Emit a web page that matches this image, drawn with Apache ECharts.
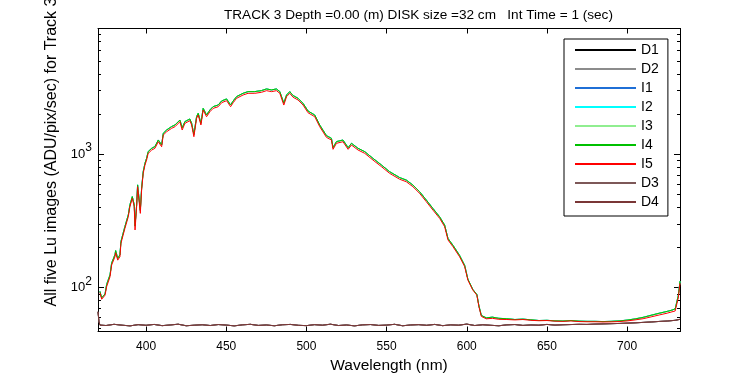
<!DOCTYPE html>
<html>
<head>
<meta charset="utf-8">
<script src="https://cdn.jsdelivr.net/npm/echarts@6/dist/echarts.min.js"></script>
<style>
  html, body { margin: 0; padding: 0; background: #fff; }
  #chart { width: 750px; height: 375px; }
</style>
</head>
<body>
<div id="chart"></div>
<script>
// wavelengths (nm) for the lit images
var wl = [371.2, 372.3, 374.4, 375.4, 377.5, 378.5, 380.6, 381.0, 382.3, 383.7, 384.3, 386.8, 388.9, 389.9,
  391.4, 392.6, 393.1, 394.1, 394.7, 395.7, 396.4, 397.2, 398.2, 399.3, 400.3, 401.3, 403.5, 405.5, 407.6,
  409.7, 410.7, 412.8, 415.9, 418.0, 421.1, 422.5, 424.2, 427.3, 428.4, 429.8, 430.9, 431.5, 432.5, 434.2,
  435.6, 437.7, 439.8, 441.8, 445.0, 447.1, 450.2, 452.7, 454.3, 456.4, 460.5, 463.6, 467.8, 472.0, 475.1,
  478.2, 481.3, 483.4, 485.9, 487.6, 489.6, 491.7, 494.8, 497.9, 501.0, 505.2, 508.3, 512.5, 515.6, 516.6,
  518.7, 522.8, 526.0, 528.1, 532.2, 536.4, 541.5, 546.8, 551.9, 558.2, 562.3, 566.4, 570.6, 574.8, 578.9,
  583.1, 586.2, 588.3, 591.4, 595.5, 598.7, 600.7, 603.8, 606.3, 607.6, 609.1, 612.2, 616, 620, 625, 630,
  635, 640, 645, 650, 655, 660, 665, 670, 675, 680, 685, 690, 695, 700, 705, 710, 715, 720, 725, 728, 730,
  731, 732, 733];
// I5 (red, drawn on top)
var lu5 = [92, 82, 88, 102, 121, 148, 171, 183, 161, 171, 215, 279, 341, 405,
  468, 405, 271, 405, 572, 589, 361, 540, 720, 832, 906, 1017, 1077, 1109, 1243,
  1140, 1395, 1477, 1566, 1610, 1755, 1521, 1707, 1786, 1659, 1355, 1318, 1862, 1971, 1659,
  2147, 1913, 2087, 2210, 2275, 2437, 2524, 2275, 2437, 2628, 2784, 2866, 2866, 2917, 3000,
  2950, 3000, 2866, 2340, 2705, 2866, 2676, 2554, 2340, 2050, 1913, 1610, 1340, 1280, 1090,
  1209, 1243, 1090, 1174, 1077, 1017, 906, 808, 720, 650, 623, 572, 510, 441, 382,
  331, 287, 228, 203, 171, 144, 114, 96, 88, 72, 61, 58.5, 59, 58, 57.8, 57.4,
  57.8, 57, 56.6, 56.8, 56.2, 56, 56.4, 55.8, 55.6, 55.6, 55.4, 55.5, 55.8, 56.4, 57.4, 58.6, 60.5, 62.5, 64.5, 66, 67,
  68, 85, 108];
// I4 (green), a touch above the red
var lu4 = [94, 84, 90, 106, 125, 153, 177, 190, 166, 177, 222, 288, 352, 418,
  482, 418, 290, 418, 590, 607, 380, 556, 742, 858, 934, 1048, 1110, 1143, 1281,
  1175, 1438, 1522, 1614, 1659, 1808, 1580, 1759, 1840, 1710, 1410, 1370, 1918, 2031, 1710,
  2212, 1971, 2150, 2277, 2344, 2511, 2600, 2344, 2511, 2707, 2868, 2952, 2952, 3005, 3090,
  3039, 3090, 2952, 2420, 2787, 2952, 2757, 2631, 2410, 2111, 1970, 1658, 1380, 1318, 1122,
  1245, 1280, 1122, 1209, 1109, 1047, 933, 832, 741, 669, 641, 589, 525, 454, 393,
  340, 295, 234, 208, 175, 147, 116, 97, 89, 73, 62, 59.5, 60.2, 59, 58.6, 57.8,
  58.2, 57.5, 56.8, 57, 56.5, 56.3, 56.8, 56.2, 56, 56, 55.8, 56, 56.4, 57.2, 58.4, 60, 62.2, 64.4, 66.5, 68, 69.5,
  71, 88, 112];
// dark images
var darkWl = [370, 370.6, 371.2, 375, 380, 385, 390, 395, 400, 405, 410, 415, 420, 425, 430, 435, 440, 445,
  450, 455, 460, 465, 470, 475, 480, 485, 490, 495, 500, 505, 510, 515, 520, 525, 530, 535, 540, 545, 550,
  555, 560, 565, 570, 575, 580, 585, 590, 595, 600, 605, 610, 615, 620, 625, 630, 635, 640, 645, 650, 655,
  660, 665, 670, 675, 680, 685, 690, 695, 700, 705, 710, 715, 720, 725, 730, 733];
var darkLu = [66, 56, 52.5, 52.1, 53.2, 52.4, 51.8, 52.9, 52.3, 53.1, 52.0, 52.6, 53.3, 51.9, 52.4, 52.8, 52.1, 53.0,
  52.5, 51.8, 52.7, 53.2, 52.2, 52.6, 51.9, 52.8, 53.1, 52.3, 52.0, 52.9, 52.4, 53.3, 52.1, 52.6, 51.8, 52.7, 53.0,
  52.2, 52.5, 53.2, 51.9, 52.6, 52.9, 52.3, 53.1, 52.0, 52.7, 52.4, 53.4, 52.1, 52.8, 52.3, 51.9, 52.7, 53.0, 52.2,
  52.6, 52.4, 53.1, 52.5, 52.8, 53.0, 53.2, 53.1, 53.4, 53.6, 53.8, 54.0, 54.3, 54.6, 55.0, 55.4, 55.9, 56.3, 57.0, 58.0];

var names = ['D1', 'D2', 'I1', 'I2', 'I3', 'I4', 'I5', 'D3', 'D4'];
var colors = ['#000000', '#8c8c8c', '#1f6fd6', '#00ffff', '#90ee90', '#00c000', '#ff0000', '#7d5858', '#7a3636'];
var xTicks = [400, 450, 500, 550, 600, 650, 700];
var yMajor = [100, 1000];
var yMinor = [50, 60, 70, 80, 90, 200, 300, 400, 500, 600, 700, 800, 900, 2000, 3000, 4000, 5000, 6000, 7000, 8000];

function zip(xs, ys) {
  var out = [];
  for (var i = 0; i < xs.length; i++) out.push([xs[i], ys[i]]);
  return out;
}
var seriesData = {
  D1: zip(darkWl, darkLu), D2: zip(darkWl, darkLu), D3: zip(darkWl, darkLu), D4: zip(darkWl, darkLu),
  I1: zip(wl, lu4), I2: zip(wl, lu4), I3: zip(wl, lu4), I4: zip(wl, lu4), I5: zip(wl, lu5)
};

var FONT = 'Liberation Sans';
var myChart = echarts.init(document.getElementById('chart'));

function yAxisDef(pos, ticks, len, withLabels) {
  var ax = {
    type: 'log', logBase: 10, position: pos, min: 47, max: 8770,
    axisLine: { show: true, lineStyle: { color: '#000', width: 1 } },
    axisTick: { show: true, inside: true, length: len, customValues: ticks, lineStyle: { color: '#000' } },
    axisLabel: { show: false },
    splitLine: { show: false }
  };
  if (withLabels) {
    ax.axisLabel = {
      show: true, customValues: yMajor, margin: 6,
      formatter: function (v) { return '{b|10}{s|' + Math.round(Math.log10(v)) + '}'; },
      rich: {
        b: { fontSize: 13, fontFamily: FONT, color: '#000' },
        s: { fontSize: 12, fontFamily: FONT, color: '#000', padding: [0, 0, 13, 0] }
      }
    };
    ax.name = 'All five Lu images (ADU/pix/sec) for Track 3';
    ax.nameLocation = 'middle';
    ax.nameGap = 35;
    ax.nameTextStyle = { fontSize: 16, fontFamily: FONT, color: '#000', padding: [0, 0, 0, 56] };
  }
  return ax;
}

option = {
  animation: false,
  backgroundColor: '#fff',
  title: {
    text: 'TRACK 3 Depth =0.00 (m) DISK size =32 cm   Int Time = 1 (sec)',
    left: 219, top: 3,
    textStyle: { fontSize: 13.6, fontWeight: 'normal', fontFamily: FONT, color: '#000' }
  },
  legend: {
    orient: 'vertical', left: 564, top: 39,
    data: names,
    icon: 'rect', itemWidth: 61, itemHeight: 2, itemGap: 5,
    padding: [4, 9, 7, 11],
    borderColor: '#000', borderWidth: 1, backgroundColor: '#fff',
    textStyle: { fontSize: 14, fontFamily: FONT, color: '#000', lineHeight: 14 }
  },
  grid: { left: 98, right: 70, top: 28.5, bottom: 43.5, containLabel: false, outerBoundsMode: 'none' },
  xAxis: [{
    type: 'value', min: 370, max: 733, position: 'bottom',
    name: 'Wavelength (nm)', nameLocation: 'middle', nameGap: 23,
    nameTextStyle: { fontSize: 15.5, fontFamily: FONT, color: '#000' },
    axisLine: { lineStyle: { color: '#000', width: 1 } },
    axisTick: { inside: true, length: 5, customValues: xTicks, lineStyle: { color: '#000' } },
    axisLabel: { customValues: xTicks, margin: 9, fontSize: 12, fontFamily: FONT, color: '#000' },
    splitLine: { show: false }
  }, {
    type: 'value', min: 370, max: 733, position: 'top',
    axisLine: { lineStyle: { color: '#000', width: 1 } },
    axisTick: { inside: true, length: 5, customValues: xTicks, lineStyle: { color: '#000' } },
    axisLabel: { show: false },
    splitLine: { show: false }
  }],
  yAxis: [
    yAxisDef('left', yMajor, 6, true),
    yAxisDef('left', yMinor, 3, false),
    yAxisDef('right', yMajor, 6, false),
    yAxisDef('right', yMinor, 3, false)
  ],
  series: names.map(function (n, i) {
    return {
      name: n, type: 'line', xAxisIndex: 0, yAxisIndex: 0,
      data: seriesData[n], showSymbol: false, symbol: 'none',
      lineStyle: { color: colors[i], width: 1 }, itemStyle: { color: colors[i] },
      emphasis: { disabled: true }
    };
  })
};

if (option && typeof option === "object") {
  myChart.setOption(option, true);
}
</script>
</body>
</html>
